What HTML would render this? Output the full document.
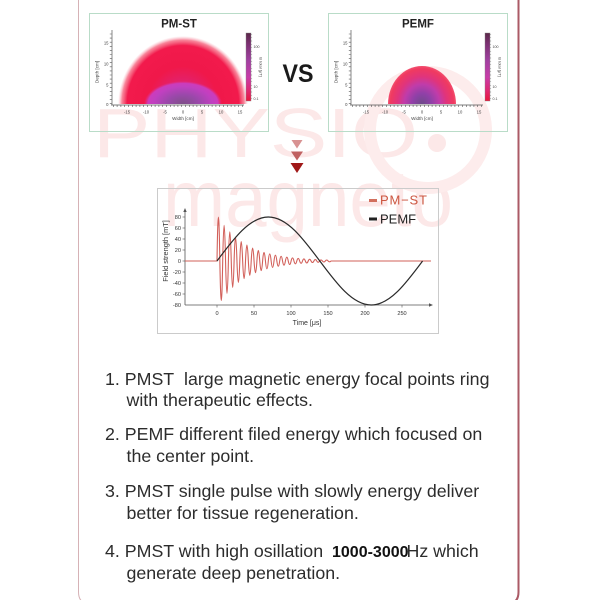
<!DOCTYPE html>
<html>
<head>
<meta charset="utf-8">
<style>
  html,body{margin:0;padding:0;background:#fff;}
  svg{display:block;font-family:"Liberation Sans",sans-serif;}
</style>
</head>
<body>
<svg width="600" height="600" viewBox="0 0 600 600" xmlns="http://www.w3.org/2000/svg">
  <defs>
    <radialGradient id="pmOut" cx="0.5" cy="0.5" r="0.5">
      <stop offset="0" stop-color="#d03098"/>
      <stop offset="0.35" stop-color="#e42068"/>
      <stop offset="0.55" stop-color="#f0184a"/>
      <stop offset="0.86" stop-color="#f21a4c"/>
      <stop offset="0.94" stop-color="#f5506e" stop-opacity="0.7"/>
      <stop offset="1" stop-color="#f8a0b0" stop-opacity="0"/>
    </radialGradient>
    <radialGradient id="pmIn" cx="0.5" cy="0.5" r="0.5">
      <stop offset="0" stop-color="#7e5088"/>
      <stop offset="0.4" stop-color="#9a48aa"/>
      <stop offset="0.75" stop-color="#c040c0"/>
      <stop offset="0.9" stop-color="#cc3cbc"/>
      <stop offset="1" stop-color="#dc3090" stop-opacity="0"/>
    </radialGradient>
    <radialGradient id="pemf" cx="0.5" cy="0.5" r="0.5">
      <stop offset="0" stop-color="#6e4a8a"/>
      <stop offset="0.28" stop-color="#9040a8"/>
      <stop offset="0.52" stop-color="#c03caa"/>
      <stop offset="0.72" stop-color="#e0347c"/>
      <stop offset="0.93" stop-color="#f03a60"/>
      <stop offset="1" stop-color="#f25070"/>
    </radialGradient>
    <linearGradient id="cbar" x1="0" y1="0" x2="0" y2="1">
      <stop offset="0" stop-color="#5a2848"/>
      <stop offset="0.15" stop-color="#7a3070"/>
      <stop offset="0.4" stop-color="#a040a0"/>
      <stop offset="0.65" stop-color="#c83ca8"/>
      <stop offset="0.85" stop-color="#e02870"/>
      <stop offset="1" stop-color="#e8183c"/>
    </linearGradient>
    <clipPath id="clipPM"><rect x="112" y="20" width="140" height="84"/></clipPath>
    <clipPath id="clipPE"><rect x="351" y="20" width="140" height="84"/></clipPath>
  </defs>

  <rect width="600" height="600" fill="#fff"/>

  <!-- watermark -->
  <g fill="#fce8e8">
    <text x="93" y="157" font-size="70" textLength="325" lengthAdjust="spacingAndGlyphs">PHYSIO</text>
    <text x="163" y="226" font-size="80" textLength="290" lengthAdjust="spacingAndGlyphs">magneto</text>
    <circle cx="437" cy="143" r="9"/>
  </g>
  <circle cx="428" cy="130" r="58" fill="none" stroke="#fdecec" stroke-width="12"/>

  <!-- card border -->
  <path d="M78.5,0 L78.5,592 Q78.5,604 90.5,604" fill="none" stroke="#d6b2b6" stroke-width="1"/>
  <path d="M518.5,0 L518.5,592 Q518.5,604 506.5,604" fill="none" stroke="#ab5a66" stroke-width="2"/>

  <!-- ===== PM-ST panel ===== -->
  <rect x="89.5" y="13.5" width="179" height="118" fill="none" stroke="#b9dcc8" stroke-width="1"/>
  <text x="179" y="27.5" font-size="11.5" font-weight="bold" text-anchor="middle" fill="#222">PM-ST</text>
  <g clip-path="url(#clipPM)">
    <ellipse cx="183" cy="104" rx="65" ry="68" fill="url(#pmOut)"/>
    <ellipse cx="183" cy="104" rx="39" ry="23" fill="url(#pmIn)"/>
  </g>
  <g stroke="#555" fill="none">
    <line x1="112" y1="30" x2="112" y2="105" stroke-width="0.7"/>
    <line x1="111" y1="105" x2="244" y2="105" stroke-width="0.7"/>
    <line x1="110.8" y1="104" x2="110.8" y2="31" stroke-width="2" stroke-dasharray="0.6 3.5"/>
    <line x1="113" y1="106" x2="244" y2="106" stroke-width="2" stroke-dasharray="0.6 3.2"/>
  </g>
  <g font-size="4.2" fill="#444" text-anchor="end">
    <text x="108.5" y="44.5">15</text>
    <text x="108.5" y="65.5">10</text>
    <text x="108.5" y="86.5">5</text>
    <text x="108.5" y="106">0</text>
  </g>
  <g font-size="4.2" fill="#444" text-anchor="middle">
    <text x="127" y="113.5">-15</text>
    <text x="146" y="113.5">-10</text>
    <text x="165" y="113.5">-5</text>
    <text x="183" y="113.5">0</text>
    <text x="202" y="113.5">5</text>
    <text x="221" y="113.5">10</text>
    <text x="240" y="113.5">15</text>
    <text x="183" y="120" font-size="4.6">Width [cm]</text>
  </g>
  <text transform="translate(98.5,72) rotate(-90)" font-size="4.6" fill="#444" text-anchor="middle">Depth [cm]</text>
  <rect x="246" y="33" width="5" height="68" fill="url(#cbar)" stroke="#888" stroke-width="0.4"/>
  <line x1="251.5" y1="34" x2="251.5" y2="100" stroke="#666" stroke-width="1.2" stroke-dasharray="0.4 3"/>
  <g font-size="3.6" fill="#444">
    <text x="253.5" y="48">100</text>
    <text x="253.5" y="88">10</text>
    <text x="253.5" y="100">0.1</text>
  </g>
  <text transform="translate(259.5,67) rotate(90)" font-size="4" fill="#444" text-anchor="middle">B total [μT]</text>

  <!-- VS -->
  <text x="298" y="82" font-size="25" font-weight="bold" text-anchor="middle" fill="#1a1a1a" textLength="31" lengthAdjust="spacingAndGlyphs">VS</text>

  <!-- ===== PEMF panel ===== -->
  <rect x="328.5" y="13.5" width="179" height="118" fill="none" stroke="#b9dcc8" stroke-width="1"/>
  <text x="418" y="27.5" font-size="11.5" font-weight="bold" text-anchor="middle" fill="#222">PEMF</text>
  <g clip-path="url(#clipPE)">
    <ellipse cx="422" cy="104" rx="34" ry="38" fill="url(#pemf)"/>
  </g>
  <g transform="translate(239,0)">
    <g stroke="#555" fill="none">
      <line x1="112" y1="30" x2="112" y2="105" stroke-width="0.7"/>
      <line x1="111" y1="105" x2="244" y2="105" stroke-width="0.7"/>
      <line x1="110.8" y1="104" x2="110.8" y2="31" stroke-width="2" stroke-dasharray="0.6 3.5"/>
      <line x1="113" y1="106" x2="244" y2="106" stroke-width="2" stroke-dasharray="0.6 3.2"/>
    </g>
    <g font-size="4.2" fill="#444" text-anchor="end">
      <text x="108.5" y="44.5">15</text>
      <text x="108.5" y="65.5">10</text>
      <text x="108.5" y="86.5">5</text>
      <text x="108.5" y="106">0</text>
    </g>
    <g font-size="4.2" fill="#444" text-anchor="middle">
      <text x="127" y="113.5">-15</text>
      <text x="146" y="113.5">-10</text>
      <text x="165" y="113.5">-5</text>
      <text x="183" y="113.5">0</text>
      <text x="202" y="113.5">5</text>
      <text x="221" y="113.5">10</text>
      <text x="240" y="113.5">15</text>
      <text x="183" y="120" font-size="4.6">Width [cm]</text>
    </g>
    <text transform="translate(98.5,72) rotate(-90)" font-size="4.6" fill="#444" text-anchor="middle">Depth [cm]</text>
    <rect x="246" y="33" width="5" height="68" fill="url(#cbar)" stroke="#888" stroke-width="0.4"/>
    <line x1="251.5" y1="34" x2="251.5" y2="100" stroke="#666" stroke-width="1.2" stroke-dasharray="0.4 3"/>
    <g font-size="3.6" fill="#444">
      <text x="253.5" y="48">100</text>
      <text x="253.5" y="88">10</text>
      <text x="253.5" y="100">0.1</text>
    </g>
    <text transform="translate(259.5,67) rotate(90)" font-size="4" fill="#444" text-anchor="middle">B total [μT]</text>
  </g>

  <!-- arrows -->
  <polygon points="291.5,140 302.5,140 297,148.5" fill="#d89292"/>
  <polygon points="291,151.5 303,151.5 297,160.5" fill="#c06262"/>
  <polygon points="290.5,163 303.5,163 297,173" fill="#a01818"/>

  <!-- ===== chart ===== -->
  <rect x="157.5" y="188.5" width="281" height="145" fill="none" stroke="#cbcbcb" stroke-width="1"/>
  <g stroke="#555" stroke-width="0.8" fill="none">
    <line x1="185" y1="305" x2="185" y2="211"/>
    <line x1="185" y1="305" x2="430" y2="305"/>
  </g>
  <polygon points="183.3,212 186.7,212 185,208" fill="#555"/>
  <polygon points="429,303.3 429,306.7 433,305" fill="#555"/>
  <g stroke="#555" stroke-width="0.6">
    <line x1="182.5" y1="217" x2="185" y2="217"/>
    <line x1="182.5" y1="228" x2="185" y2="228"/>
    <line x1="182.5" y1="239" x2="185" y2="239"/>
    <line x1="182.5" y1="250" x2="185" y2="250"/>
    <line x1="182.5" y1="261" x2="185" y2="261"/>
    <line x1="182.5" y1="272" x2="185" y2="272"/>
    <line x1="182.5" y1="283" x2="185" y2="283"/>
    <line x1="182.5" y1="294" x2="185" y2="294"/>
    <line x1="217" y1="305" x2="217" y2="307.5"/>
    <line x1="254" y1="305" x2="254" y2="307.5"/>
    <line x1="291" y1="305" x2="291" y2="307.5"/>
    <line x1="328" y1="305" x2="328" y2="307.5"/>
    <line x1="365" y1="305" x2="365" y2="307.5"/>
    <line x1="402" y1="305" x2="402" y2="307.5"/>
  </g>
  <g font-size="5.6" fill="#333" text-anchor="end">
    <text x="181" y="219">80</text>
    <text x="181" y="230">60</text>
    <text x="181" y="241">40</text>
    <text x="181" y="252">20</text>
    <text x="181" y="263">0</text>
    <text x="181" y="274">-20</text>
    <text x="181" y="285">-40</text>
    <text x="181" y="296">-60</text>
    <text x="181" y="307">-80</text>
  </g>
  <g font-size="5.6" fill="#333" text-anchor="middle">
    <text x="217" y="315">0</text>
    <text x="254" y="315">50</text>
    <text x="291" y="315">100</text>
    <text x="328" y="315">150</text>
    <text x="365" y="315">200</text>
    <text x="402" y="315">250</text>
  </g>
  <text x="307" y="325" font-size="7" fill="#333" text-anchor="middle">Time [μs]</text>
  <text transform="translate(168,251) rotate(-90)" font-size="7.4" fill="#333" text-anchor="middle">Field strength [mT]</text>

  <!-- PM-ST damped oscillation -->
  <path fill="none" stroke="#d2605a" stroke-width="1.1" stroke-linejoin="round" d="M185,261 L217,261
    Q218.4,173.4 219.85,261 Q221.3,340 222.7,261 Q224.1,189.6 225.55,261 Q227,325.6 228.4,261
    Q229.8,202.6 231.25,261 Q232.7,313.8 234.1,261 Q235.5,213.4 236.95,261 Q238.4,304 239.8,261
    Q241.2,222.2 242.65,261 Q244.1,296.2 245.5,261 Q246.9,229.2 248.35,261 Q249.8,289.6 251.2,261
    Q252.6,235 254.05,261 Q255.5,284.4 256.9,261 Q258.3,239.8 259.75,261 Q261.2,280.2 262.6,261
    Q264,243.8 265.45,261 Q266.9,276.6 268.3,261 Q269.7,246.8 271.15,261 Q272.6,273.8 274,261
    Q275.4,249.4 276.85,261 Q278.3,271.4 279.7,261 Q281.1,251.6 282.55,261 Q284,269.4 285.4,261
    Q286.8,253.4 288.25,261 Q289.7,268 291.1,261 Q292.5,254.8 293.95,261 Q295.4,266.6 296.8,261
    Q298.2,255.8 299.65,261 Q301.1,265.6 302.5,261 Q303.9,256.8 305.35,261 Q306.8,264.8 308.2,261
    Q309.6,257.6 311.05,261 Q312.5,264 313.9,261 Q315.3,258.2 316.75,261 Q318.2,263.6 319.6,261
    Q321,258.8 322.45,261 Q323.9,263 325.3,261 Q326.7,259.2 328.15,261 Q329.6,262.6 331,261
    L431,261"/>
  <!-- PEMF sine -->
  <path fill="none" stroke="#2a2a2a" stroke-width="1.2" d="M217,261 C233.77,238.46 249.81,217 268.4,217 C286.99,217 303.03,238.46 319.8,261 C336.57,283.54 352.61,305 371.2,305 C389.79,305 405.83,283.54 422.6,261"/>

  <!-- legend -->
  <rect x="369" y="199" width="8" height="3" fill="#d2705e"/>
  <text x="380" y="204.5" font-size="13" fill="#cc5640" letter-spacing="0.8">PM−ST</text>
  <rect x="369" y="217.5" width="8" height="3" fill="#222"/>
  <text x="380" y="223.5" font-size="13" fill="#1e1e1e">PEMF</text>

  <!-- ===== list ===== -->
  <g font-size="17.8" fill="#2c2c2c">
    <text x="105" y="385">1. PMST&#160; large magnetic energy focal points ring</text>
    <text x="126.5" y="406">with therapeutic effects.</text>
    <text x="105" y="440">2. PEMF different filed energy which focused on</text>
    <text x="126.5" y="462">the center point.</text>
    <text x="105" y="497">3. PMST single pulse with slowly energy deliver</text>
    <text x="126.5" y="519">better for tissue regeneration.</text>
    <text x="105" y="557">4. PMST with high osillation</text>
    <text x="332" y="557" font-size="16" font-weight="bold" fill="#111">1000-3000</text>
    <text x="406.5" y="557">Hz which</text>
    <text x="126.5" y="579">generate deep penetration.</text>
  </g>
</svg>
</body>
</html>
